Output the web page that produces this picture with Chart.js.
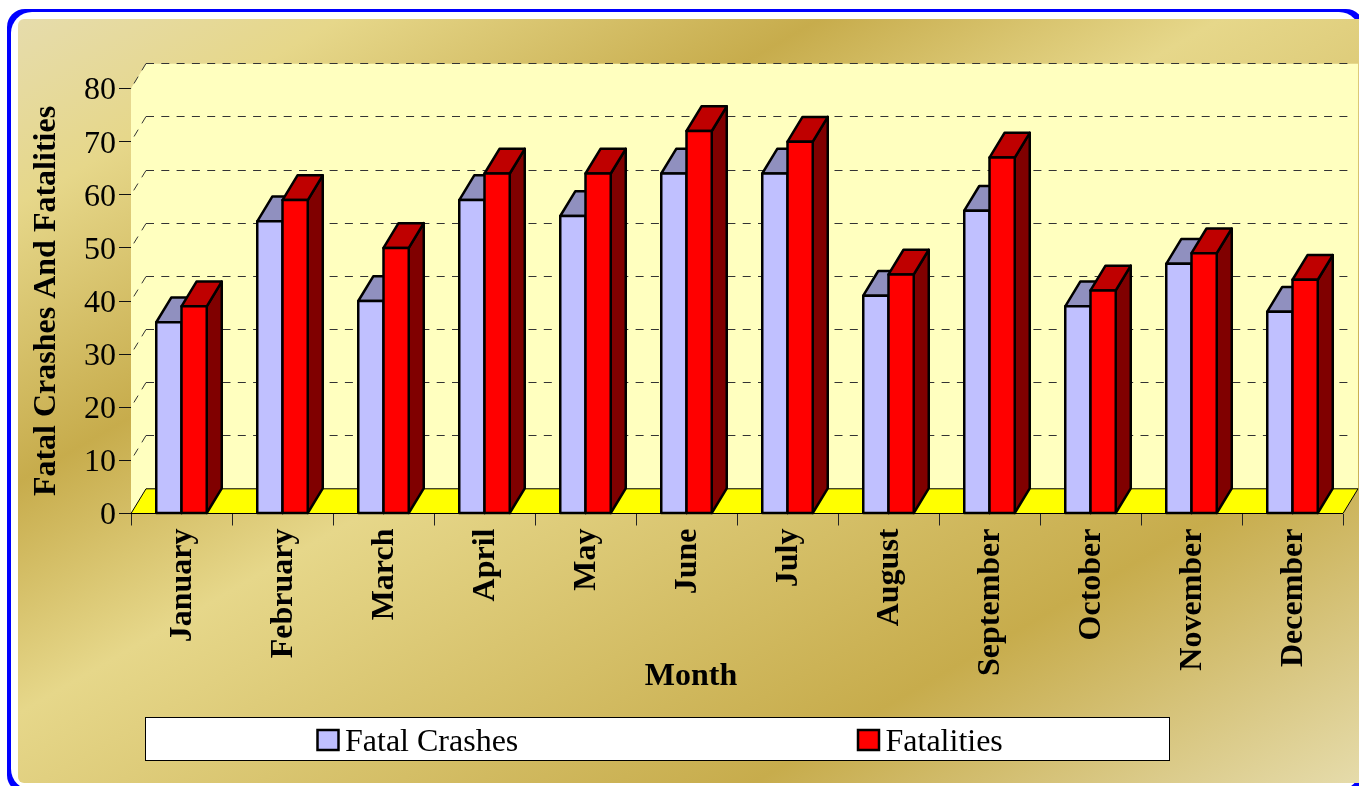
<!DOCTYPE html>
<html>
<head>
<meta charset="utf-8">
<title>Fatal Crashes And Fatalities</title>
<script src="https://cdn.jsdelivr.net/npm/chart.js@4/dist/chart.umd.js"></script>
<style>
html,body{margin:0;padding:0;background:#fff;overflow:hidden;width:1359px;height:786px;}
#frame{position:absolute;left:7px;top:9px;width:1357px;height:784px;background:#0000ff;border-radius:18px;}
#inner{position:absolute;left:10.5px;top:12px;width:1349.5px;height:778px;background:#fff;border-radius:21px;}
#gold{position:absolute;left:17.5px;top:19px;width:1350px;height:764px;border-radius:6px;
background:linear-gradient(150deg,#E6DCAC 0%,#E6D78A 12%,#C7AC4C 30%,#E6D78A 45%,#C7AC4C 77%,#E6DCAC 100%);}
canvas{position:absolute;left:0;top:0;}
</style>
</head>
<body>
<div id="frame"></div>
<div id="inner"></div>
<div id="gold"></div>
<canvas id="c" width="1359" height="786"></canvas>
<script>
const months = ["January","February","March","April","May","June","July","August","September","October","November","December"];
const fatalCrashes = [36,55,40,59,56,64,64,41,57,39,47,38];
const fatalities = [39,59,50,64,64,72,70,45,67,42,49,44];
const yTicksMax = 80;
const yTicksStep = 10;

const FONT = '"Liberation Serif","Times New Roman",serif';
const DX = 15, DY = 24.7, EDGE = 2.5;
const faces = [
  {front:'#C0C0FF', top:'#9090BF', side:'#606080'},
  {front:'#FF0000', top:'#BF0000', side:'#800000'}
];

function poly(ctx, pts, fill, stroke, lw){
  ctx.beginPath();
  pts.forEach((p,i)=> i ? ctx.lineTo(p[0],p[1]) : ctx.moveTo(p[0],p[1]));
  ctx.closePath();
  if(fill){ctx.fillStyle=fill;ctx.fill();}
  if(stroke){ctx.strokeStyle=stroke;ctx.lineWidth=lw;ctx.stroke();}
}
function drawFaces(chart,meta,f){
  const ctx=chart.ctx;
  ctx.save();ctx.lineJoin='round';
  meta.data.forEach(el=>{
    const {x,y,base,width}=el.getProps(['x','y','base','width'],true);
    const L=x-width/2,R=x+width/2;
    poly(ctx,[[R,y],[R+DX,y-DY],[R+DX,base-DY],[R,base]],f.side,'#000',EDGE);
    poly(ctx,[[L,y],[L+DX,y-DY],[R+DX,y-DY],[R,y]],f.top,'#000',EDGE);
  });
  ctx.restore();
}
function drawOutline(chart,meta){
  const ctx=chart.ctx;
  ctx.save();ctx.strokeStyle='#000';ctx.lineWidth=EDGE;ctx.lineJoin='round';
  meta.data.forEach(el=>{
    const {x,y,base,width}=el.getProps(['x','y','base','width'],true);
    ctx.strokeRect(x-width/2,y,width,base-y);
  });
  ctx.restore();
}

const threeD = {
  id:'threeD',
  beforeDatasetsDraw(chart){
    const {ctx, chartArea:a, scales:{y}} = chart;
    const t = a.top, b = a.bottom, l = a.left, r = a.right;
    ctx.save();
    poly(ctx,[[l,t],[l+DX,t-DY],[r+DX,t-DY],[r+DX,b-DY],[l,b]],'#FFFFBF');
    ctx.strokeStyle='#333';ctx.lineWidth=1;ctx.setLineDash([8,7.3]);
    y.ticks.forEach(tk=>{
      if(tk.value===0) return;
      const py=y.getPixelForValue(tk.value);
      const back=Math.floor(py-DY)+.5;
      ctx.beginPath();ctx.moveTo(l+DX,back);ctx.lineTo(r+DX-5,back);ctx.stroke();
      ctx.beginPath();ctx.moveTo(l+DX,back);ctx.lineTo(l,py);ctx.stroke();
    });
    ctx.setLineDash([]);
    poly(ctx,[[l,b],[l+DX,b-DY],[r+DX,b-DY],[r,b]],'#FFFF00','#000',1);
    ctx.restore();
  },
  // The library paints the first dataset last; the second one must sit in front,
  // so it is held back here and painted once the first dataset is done.
  beforeDatasetDraw(chart,args){
    if(args.index===1) return false;
    drawFaces(chart,args.meta,faces[0]);
  },
  afterDatasetDraw(chart,args){
    drawOutline(chart,args.meta);
  },
  afterDatasetsDraw(chart){
    const meta=chart.getDatasetMeta(1);
    drawFaces(chart,meta,faces[1]);
    meta.controller.draw();
    drawOutline(chart,meta);
  },
  afterDraw(chart){
    const {ctx}=chart;
    ctx.save();
    ctx.fillStyle='#000';ctx.textAlign='center';ctx.textBaseline='alphabetic';
    ctx.font='bold 32px '+FONT;
    ctx.fillText('Month',691,685);
    ctx.fillStyle='#fff';ctx.strokeStyle='#000';ctx.lineWidth=1;
    ctx.fillRect(145.5,717.5,1024,43);ctx.strokeRect(145.5,717.5,1024,43);
    ctx.font='32px '+FONT;ctx.textAlign='left';
    const pos=[317.5,858];
    chart.data.datasets.forEach((ds,i)=>{
      ctx.fillStyle=ds.backgroundColor;ctx.lineWidth=2.5;
      ctx.fillRect(pos[i],730,21,20);ctx.strokeRect(pos[i],730,21,20);
      ctx.fillStyle='#000';
      ctx.fillText(ds.label,pos[i]+27.5,751);
    });
    ctx.restore();
  }
};

new Chart(document.getElementById('c'),{
  type:'bar',
  data:{labels:months,datasets:[
    {label:'Fatal Crashes',data:fatalCrashes,backgroundColor:faces[0].front,categoryPercentage:0.5,barPercentage:1},
    {label:'Fatalities',data:fatalities,backgroundColor:faces[1].front,categoryPercentage:0.5,barPercentage:1}
  ]},
  options:{
    responsive:false,animation:false,
    layout:{padding:{top:88.5,left:0,right:16,bottom:0}},
    plugins:{legend:{display:false},title:{display:false},tooltip:{enabled:false}},
    scales:{
      x:{
        afterFit(s){s.height=272.5;},
        grid:{drawOnChartArea:false,color:'#222',tickLength:12,offset:true},
        border:{display:false},
        ticks:{color:'#000',font:{family:FONT,size:32,weight:'bold'},minRotation:90,maxRotation:90,autoSkip:false,padding:3,labelOffset:1}
      },
      y:{
        min:0,max:yTicksMax,
        afterFit(s){s.width=131;},
        grid:{drawOnChartArea:false,color:'#111',tickLength:12},
        border:{display:true,color:'#000',width:1},
        ticks:{stepSize:yTicksStep,color:'#000',font:{family:FONT,size:32},padding:3,labelOffset:2.5},
        title:{display:true,text:'Fatal Crashes And Fatalities',color:'#000',font:{family:FONT,size:32,weight:'bold'},padding:{top:28,bottom:0}}
      }
    }
  },
  plugins:[threeD]
});
</script>
</body>
</html>
